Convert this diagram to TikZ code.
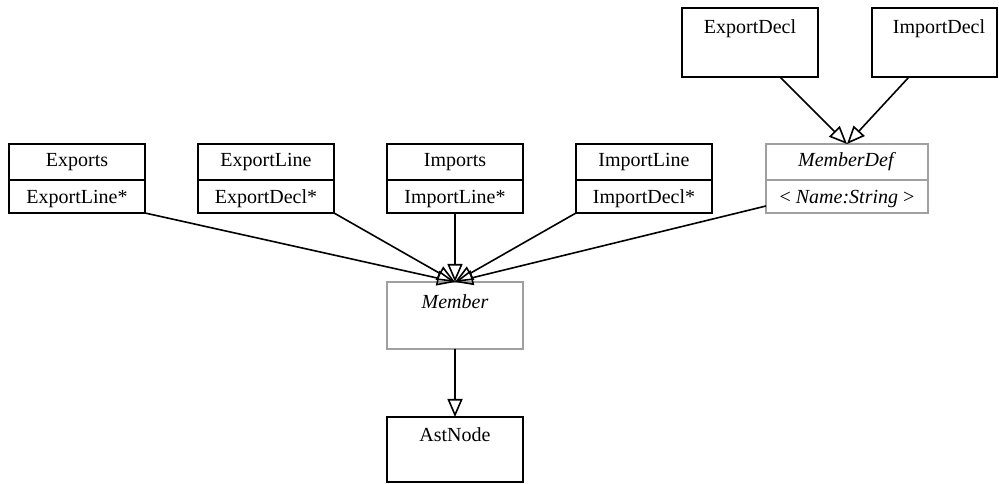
\documentclass[tikz,border=0pt]{standalone}
\usepackage{fontspec}
\setmainfont{Liberation Serif}
\usetikzlibrary{arrows.meta}
\definecolor{absgray}{HTML}{A0A0A0}
\tikzset{
  box/.style={draw=black, line width=1.7pt, minimum width=136pt, minimum height=69pt, anchor=north west, inner sep=0pt, outer sep=0pt},
  absbox/.style={box, draw=absgray, line width=1.5pt},
  lbl/.style={inner sep=0pt, font=\fontsize{20}{24}\selectfont},
  divider/.style={line width=1.7pt},
  absdivider/.style={line width=1.5pt, draw=absgray},
  inh/.style={line width=1.6pt, -{Triangle[open, length=18pt, width=15pt, line width=1.6pt]}}
}
\begin{document}
\begin{tikzpicture}[x=1pt, y=1pt]
\useasboundingbox (0,0) rectangle (999,484);
% top row declarations
\node[box] (exportdecl) at (682,476) {};
\node[lbl] (exportdeclT) at (750,455) {ExportDecl};
\node[box, minimum width=125pt] (importdecl) at (872,476) {};
\node[lbl] (importdeclT) at (939,455) {ImportDecl};
% second row
\node[box] (exports) at (9,340) {};
\node[lbl] (exportsT) at ([yshift=-18pt]exports.north) {Exports};
\node[lbl] (exportsA) at ([yshift=-55pt]exports.north) {ExportLine*};
\draw[divider] ([yshift=-36pt]exports.north west) -- ([yshift=-36pt]exports.north east);

\node[box] (exportline) at (198,340) {};
\node[lbl] (exportlineT) at ([yshift=-18pt]exportline.north) {ExportLine};
\node[lbl] (exportlineA) at ([yshift=-55pt]exportline.north) {ExportDecl*};
\draw[divider] ([yshift=-36pt]exportline.north west) -- ([yshift=-36pt]exportline.north east);

\node[box] (imports) at (387,340) {};
\node[lbl] (importsT) at ([yshift=-18pt]imports.north) {Imports};
\node[lbl] (importsA) at ([yshift=-55pt]imports.north) {ImportLine*};
\draw[divider] ([yshift=-36pt]imports.north west) -- ([yshift=-36pt]imports.north east);

\node[box] (importline) at (576,340) {};
\node[lbl] (importlineT) at ([yshift=-18pt]importline.north) {ImportLine};
\node[lbl] (importlineA) at ([yshift=-55pt]importline.north) {ImportDecl*};
\draw[divider] ([yshift=-36pt]importline.north west) -- ([yshift=-36pt]importline.north east);

\node[absbox, minimum width=162pt] (memberdef) at (766,340) {};
\node[lbl] (memberdefT) at ([yshift=-18pt]memberdef.north) {\textit{MemberDef}};
\node[lbl] (memberdefA) at ([yshift=-55pt]memberdef.north) {< \textit{Name:String} >};
\draw[absdivider] ([yshift=-36pt]memberdef.north west) -- ([yshift=-36pt]memberdef.north east);

% member and astnode
\node[absbox, minimum height=67pt] (member) at (387,202) {};
\node[lbl] (memberT) at ([yshift=-20pt]member.north) {\textit{Member}};
\node[box, minimum height=65pt] (astnode) at (387,67) {};
\node[lbl] (astnodeT) at ([yshift=-18pt]astnode.north) {AstNode};

% inheritance edges
\draw[inh] ([xshift=-38pt]exportdecl.south east) -- (memberdef.north);
\draw[inh] ([xshift=37pt]importdecl.south west) -- (memberdef.north);
\draw[inh] (exports.south east) -- (member.north);
\draw[inh] (exportline.south east) -- (member.north);
\draw[inh] (imports.south) -- (member.north);
\draw[inh] (importline.south west) -- (member.north);
\draw[inh] ([yshift=7pt]memberdef.south west) -- (member.north);
\draw[inh] (member.south) -- (astnode.north);
\end{tikzpicture}
\end{document}
